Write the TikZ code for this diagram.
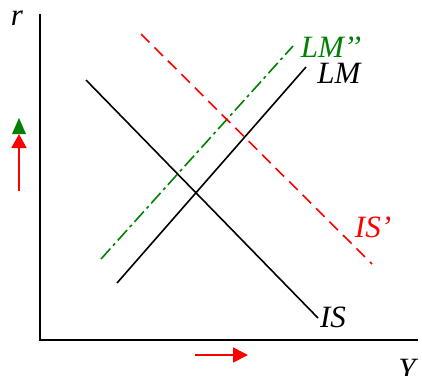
\documentclass[tikz,border=0pt]{standalone}
\usepackage{fontspec}
\setmainfont{Liberation Serif}
\usetikzlibrary{arrows.meta}
\definecolor{lmgreen}{RGB}{0,128,0}
\definecolor{isred}{RGB}{255,0,0}
\begin{document}
\begin{tikzpicture}[x=1pt,y=-1pt,
  curve/.style={line width=1.6pt},
  lbl/.style={font=\fontsize{31}{34}\selectfont\itshape, inner sep=0pt},
  axis/.style={line width=1.8pt, black}]
\useasboundingbox (0,0) rectangle (422,375);
% axes
\coordinate (top) at (40,14);
\coordinate (origin) at (40,340);
\coordinate (right) at (418,340);
\draw[axis] (top) -- (origin) -- (right);
\node[lbl] (r) at (17,18) {r};
\node[lbl] (Y) at (407,369) {Y};
% IS
\coordinate (is1) at (86,80);
\coordinate (is2) at (318,318);
\draw[curve] (is1) -- (is2);
\node[lbl] (ISl) at (333,317) {IS};
% LM
\coordinate (lm1) at (117,283);
\coordinate (lm2) at (306,67);
\draw[curve] (lm1) -- (lm2);
\node[lbl] (LMl) at (339,73) {LM};
% LM''
\coordinate (lmm1) at (101,259);
\coordinate (lmm2) at (293,46);
\draw[curve, lmgreen, dash pattern=on 14pt off 4pt on 3pt off 4pt] (lmm1) -- (lmm2);
\node[lbl, text=lmgreen] (LMMl) at (331,47) {LM’’};
% IS'
\coordinate (isp1) at (141,34);
\coordinate (isp2) at (372,264);
\draw[curve, isred, dash pattern=on 12pt off 7pt] (isp1) -- (isp2);
\node[lbl, text=isred] (ISpl) at (373,227) {IS’};
% left arrows
\coordinate (ra1) at (19,191);
\coordinate (ra2) at (19,134);
\draw[isred, line width=1.8pt, -{Triangle[length=14pt,width=15pt]}] (ra1) -- (ra2);
\fill[lmgreen] (12,134) -- (26,134) -- (19,118) -- cycle;
% bottom arrow
\coordinate (ba1) at (195,355);
\coordinate (ba2) at (248,355);
\draw[isred, line width=1.8pt, -{Triangle[length=15pt,width=15pt]}] (ba1) -- (ba2);
\end{tikzpicture}
\end{document}
